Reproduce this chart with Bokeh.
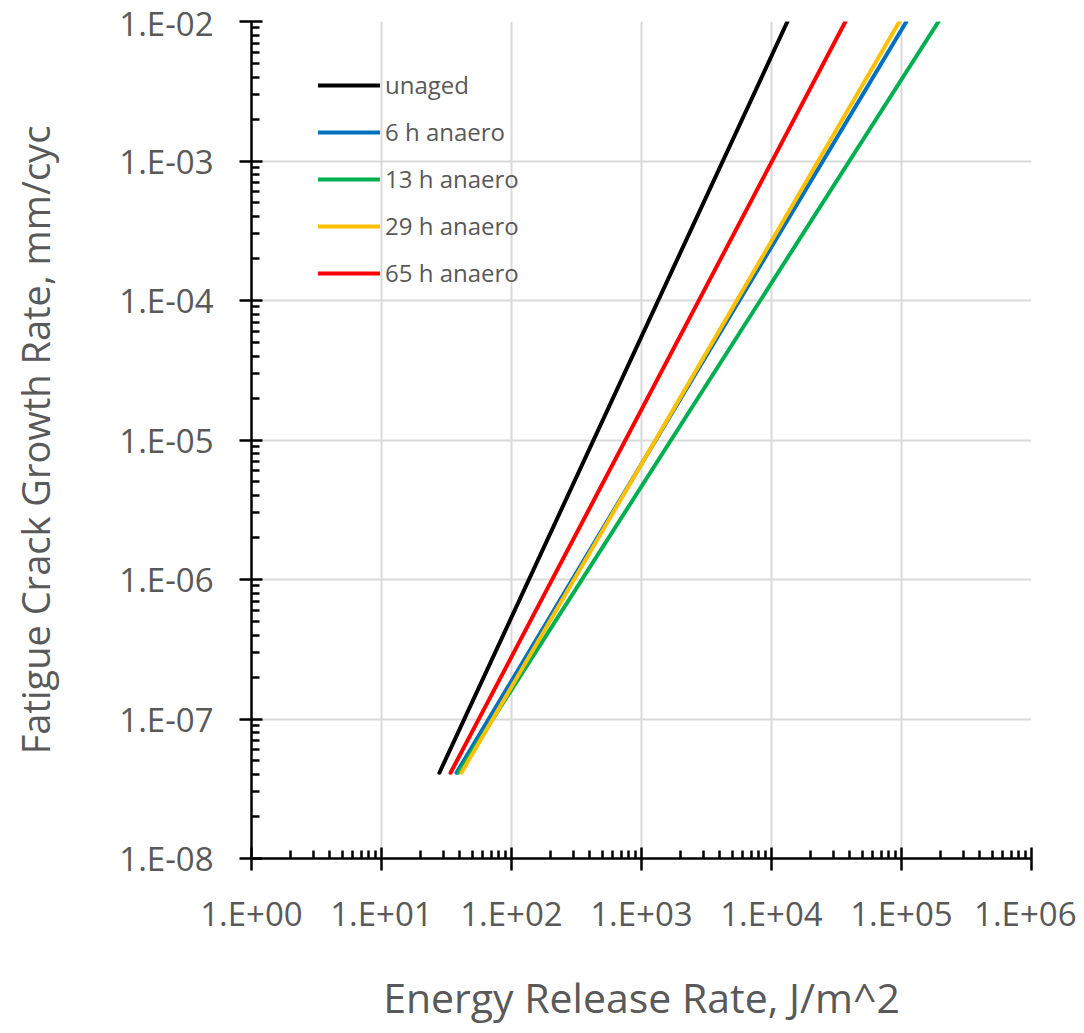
from bokeh.plotting import figure
from bokeh.models import FixedTicker, CustomJSTickFormatter, Legend, LegendItem, Range1d
from bokeh.embed import file_html
from bokeh.resources import INLINE

# ---- data ----
series_names = ["unaged", "6 h anaero", "13 h anaero", "29 h anaero", "65 h anaero"]
series_colors = ["#000000", "#0070C0", "#00B050", "#FFC000", "#FF0000"]
g_start = [27.9, 37.8, 39.1, 41.2, 34.0]          # J/m^2 at the low end
g_end = [13270.0, 109200.0, 192800.0, 96600.0, 37070.0]  # J/m^2 at rate 1E-2
rate_start = 4.12e-8
rate_end = 1.0e-2

x_major = [1e0, 1e1, 1e2, 1e3, 1e4, 1e5, 1e6]
y_major = [1e-8, 1e-7, 1e-6, 1e-5, 1e-4, 1e-3, 1e-2]
x_minor = [m * d for d in x_major[:-1] for m in range(2, 10)]
y_minor = [m * d for d in y_major[:-1] for m in range(2, 10)]

FONT = "Open Sans"
GRAY = "#595959"

p = figure(frame_width=780, frame_height=837, x_axis_type="log", y_axis_type="log",
           x_range=Range1d(1e0, 1e6), y_range=Range1d(1e-8, 1e-2),
           output_backend="svg", toolbar_location=None,
           min_border_left=251, min_border_right=45, min_border_top=21, min_border_bottom=10)
p.outline_line_color = None
p.background_fill_color = "white"
p.border_fill_color = "white"

fmt = CustomJSTickFormatter(code="""
const e = Math.round(Math.log10(tick));
const s = e < 0 ? '-' : '+';
const a = Math.abs(e);
return '1.E' + s + (a < 10 ? '0' : '') + a;
""")

p.xaxis.ticker = FixedTicker(ticks=x_major, minor_ticks=x_minor)
p.yaxis.ticker = FixedTicker(ticks=y_major, minor_ticks=y_minor)
for ax in (p.xaxis[0], p.yaxis[0]):
    ax.formatter = fmt
    ax.axis_line_color = "black"
    ax.axis_line_width = 2.5
    ax.major_tick_line_color = "black"
    ax.major_tick_line_width = 2.5
    ax.minor_tick_line_color = "black"
    ax.minor_tick_line_width = 2.5
    ax.major_tick_in = 11
    ax.major_tick_out = 12
    ax.minor_tick_in = 8
    ax.minor_tick_out = 0
    ax.major_label_text_font = FONT
    ax.major_label_text_font_size = "33px"
    ax.major_label_text_color = GRAY
    ax.axis_label_text_font = FONT
    ax.axis_label_text_font_style = "normal"
    ax.axis_label_text_color = GRAY

p.xaxis.major_label_standoff = 20
p.yaxis.major_label_standoff = 26
p.xaxis.axis_label = "Energy Release Rate, J/m^2"
p.xaxis.axis_label_text_font_size = "41px"
p.xaxis.axis_label_standoff = 30
p.yaxis.axis_label = "Fatigue Crack Growth Rate, mm/cyc"
p.yaxis.axis_label_text_font_size = "38px"
p.yaxis.axis_label_standoff = 55

p.xgrid.ticker = FixedTicker(ticks=x_major)
p.ygrid.ticker = FixedTicker(ticks=y_major)
for g in (p.xgrid[0], p.ygrid[0]):
    g.grid_line_color = "#d9d9d9"
    g.grid_line_width = 2

items = []
for name, col, g0, g1 in zip(series_names, series_colors, g_start, g_end):
    r = p.line([g0, g1], [rate_start, rate_end], line_color=col, line_width=4, line_cap="round")
    items.append(LegendItem(label=name, renderers=[r]))

legend = Legend(items=items, location=(67, 569))
legend.background_fill_alpha = 0
legend.border_line_color = None
legend.padding = 0
legend.margin = 0
legend.spacing = 14
legend.glyph_width = 62
legend.glyph_height = 20
legend.label_height = 20
legend.label_standoff = 5
legend.label_text_font = FONT
legend.label_text_font_size = "24px"
legend.label_text_color = GRAY
p.add_layout(legend, "center")

open("out.html", "w").write(file_html(p, INLINE))
